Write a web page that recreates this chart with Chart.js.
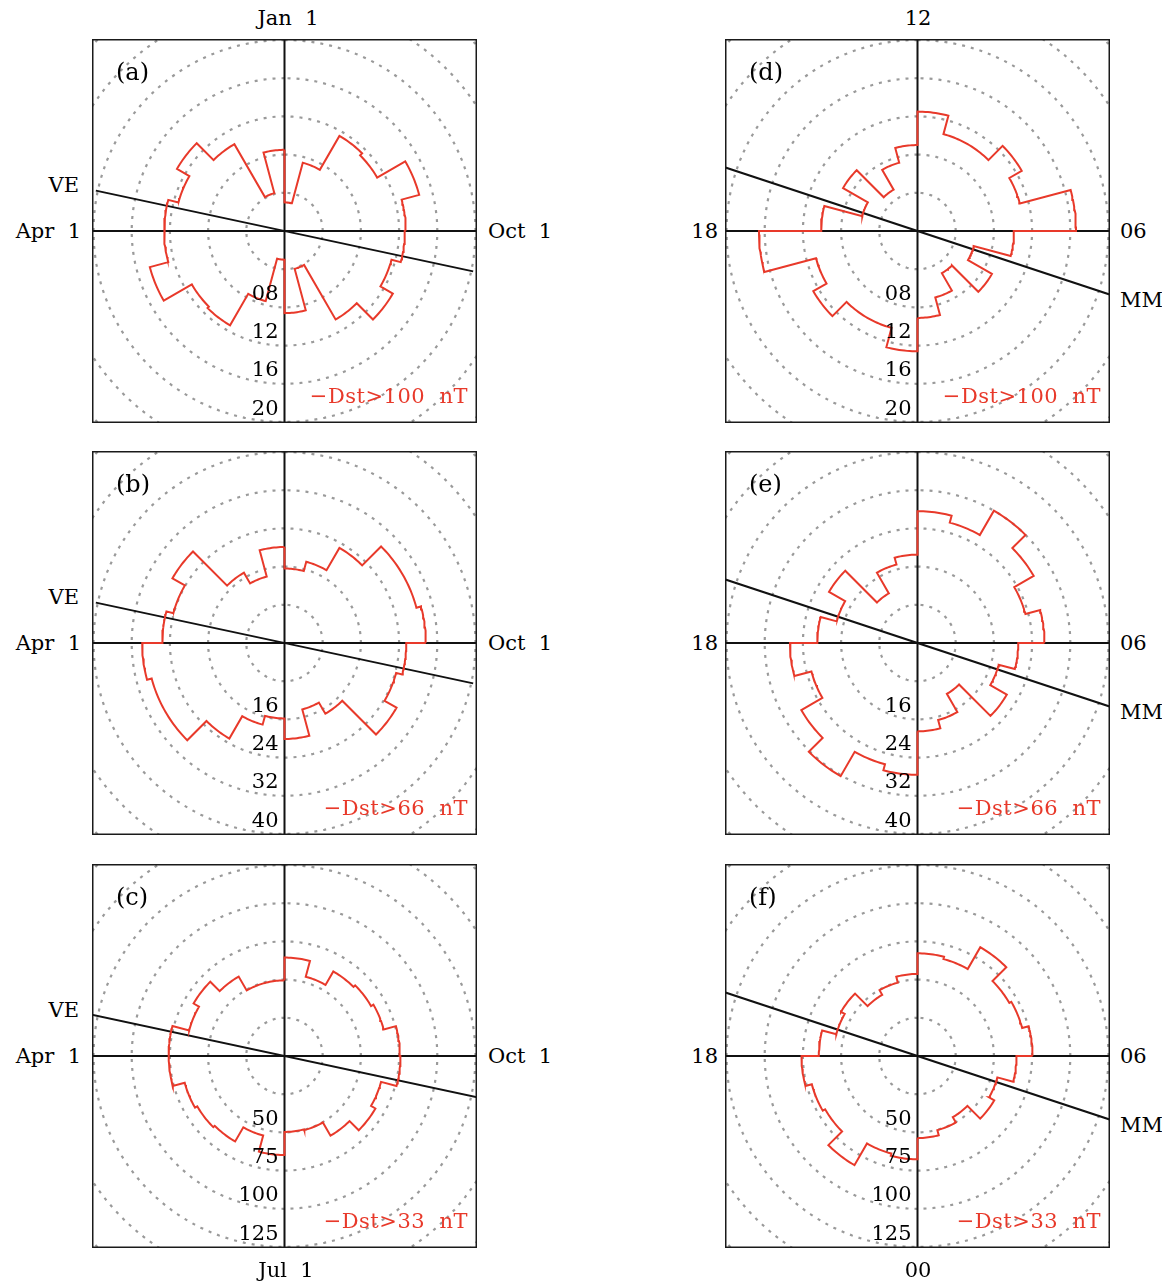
<!DOCTYPE html>
<html lang="en">
<head>
<meta charset="UTF-8">
<title>Storm occurrence by season and UT</title>
<script src="https://cdn.jsdelivr.net/npm/chart.js"></script>
<style>
  body { margin: 0; background: #fff; font-family: 'DejaVu Serif', serif; }
  #page { position: relative; width: 1162px; height: 1281px; overflow: hidden; }
  .box { position: absolute; width: 385px; height: 384px; }
  .lbl { position: absolute; font-size: 21px; line-height: 22px; white-space: pre; color: #000; }
  .red { color: #e8392a; letter-spacing: 0.5px; }
  .tag { font-size: 24px; line-height: 26px; }
</style>
</head>
<body>
<div id="page"></div>

<script>
// 24 bins of 15 deg each.
// season bins: bin 0 starts at Jan 1 (top) and runs anticlockwise (Apr 1 left, Jul 1 bottom, Oct 1 right)
// UT bins: bin 0 is 00-01 UT (bottom) and runs anticlockwise (06 right, 12 top, 18 left)
const seasonBins100 = [8.5, 4.1, 10.5, 13.0, 11.5, 12.6, 12.6, 14.6, 11.2, 11.4, 7.6, 3.0, 8.6, 4.1, 10.7, 13.1, 11.6, 12.6, 12.7, 14.6, 11.2, 11.5, 7.4, 3.0];
const seasonBins66 = [20.1, 14.4, 17.0, 27.1, 24.1, 25.6, 29.8, 28.8, 28.8, 23.1, 17.7, 15.8, 20.1, 14.4, 17.1, 27.1, 24.2, 25.5, 29.6, 28.6, 28.6, 23.0, 17.6, 15.6];
const seasonBins33 = [49.5, 49.5, 60.0, 68.7, 64.6, 75.9, 75.7, 67.6, 65.9, 64.6, 53.9, 64.8, 49.7, 50.2, 60.2, 68.7, 65.4, 75.9, 75.5, 67.2, 65.4, 63.9, 53.7, 64.4];
const utBins100 = [9.1, 7.2, 5.1, 9.0, 6.1, 10.1, 16.6, 11.1, 12.6, 10.5, 10.5, 12.5, 9.0, 7.4, 5.0, 9.0, 6.0, 10.1, 16.6, 11.0, 12.6, 10.5, 10.5, 12.6];
const utBins66 = [18.5, 16.7, 12.3, 21.6, 17.6, 21.1, 26.6, 23.4, 28.1, 32.0, 26.1, 27.6, 18.5, 17.0, 12.0, 21.4, 17.5, 21.0, 26.7, 23.0, 28.1, 32.2, 26.3, 27.6];
const utBins33 = [53.7, 50.2, 46.2, 58.0, 54.1, 64.8, 75.3, 70.9, 69.4, 82.2, 65.7, 67.2, 53.7, 49.7, 46.2, 57.8, 55.0, 64.6, 75.9, 71.6, 69.8, 82.5, 66.1, 67.6];

// dotted rings
const ringStep100 = 4, ringStep66 = 8, ringStep33 = 25;
const ringTicks100 = ['08', '12', '16', '20'];
const ringTicks66 = ['16', '24', '32', '40'];
const ringTicks33 = ['50', '75', '100', '125'];

// reference directions
const vernalEquinoxDay = 79;      // of 365
const magneticMidnightUT = 4.78;  // hours

const seasonLabels = ['Jan  1', 'Apr  1', 'Jul  1', 'Oct  1'];
const utLabels = ['12', '18', '00', '06'];
const thresholds = ['\u2212Dst>100  nT', '\u2212Dst>66  nT', '\u2212Dst>33  nT'];

// ---------- layout ----------
const RED = '#e8392a';
const RING_PX = 38.2;       // pixel distance between rings
const BOX_W = 385, BOX_H = 384;
const colX = [92, 725];
const rowY = [39, 451, 864];

const page = document.getElementById('page');

function put(text, x, y, align, cls) {
  const d = document.createElement('div');
  d.className = 'lbl' + (cls ? ' ' + cls : '');
  d.textContent = text;
  d.style.left = x + 'px';
  d.style.top = y + 'px';
  const tx = align === 'right' ? '-100%' : align === 'center' ? '-50%' : '0';
  d.style.transform = 'translate(' + tx + ', -50%)';
  page.appendChild(d);
}

const rad = d => d * Math.PI / 180;
// phi: degrees anticlockwise from the top
const polar = (r, phi) => ({ x: -r * Math.sin(rad(phi)), y: r * Math.cos(rad(phi)) });

function roseOutline(values, startDeg) {
  const w = 360 / values.length;
  const pts = [];
  values.forEach((v, k) => {
    for (let s = 0; s <= 12; s++) pts.push(polar(v, startDeg + k * w + s * w / 12));
  });
  pts.push(pts[0]);
  return pts;
}

function ring(r) {
  const pts = [];
  for (let s = 0; s <= 180; s++) pts.push(polar(r, s * 2));
  return pts;
}

const framePlugin = {
  id: 'frame',
  afterDraw(chart) {
    const c = chart.ctx;
    c.save();
    c.strokeStyle = '#1a1a1a';
    c.lineWidth = 1.5;
    c.strokeRect(0.75, 0.75, chart.width - 1.5, chart.height - 1.5);
    c.restore();
  }
};

const panels = [
  { tag: '(a)', col: 0, row: 0, values: seasonBins100, step: ringStep100, ticks: ringTicks100, thr: thresholds[0], start: 0,   tilt: vernalEquinoxDay / 365 * 360, tiltLen: 5.05 },
  { tag: '(b)', col: 0, row: 1, values: seasonBins66,  step: ringStep66,  ticks: ringTicks66,  thr: thresholds[1], start: 0,   tilt: vernalEquinoxDay / 365 * 360, tiltLen: 5.05 },
  { tag: '(c)', col: 0, row: 2, values: seasonBins33,  step: ringStep33,  ticks: ringTicks33,  thr: thresholds[2], start: 0,   tilt: vernalEquinoxDay / 365 * 360, tiltLen: 5.3 },
  { tag: '(d)', col: 1, row: 0, values: utBins100,     step: ringStep100, ticks: ringTicks100, thr: thresholds[0], start: 180, tilt: 180 + magneticMidnightUT * 15, tiltLen: 6 },
  { tag: '(e)', col: 1, row: 1, values: utBins66,      step: ringStep66,  ticks: ringTicks66,  thr: thresholds[1], start: 180, tilt: 180 + magneticMidnightUT * 15, tiltLen: 6 },
  { tag: '(f)', col: 1, row: 2, values: utBins33,      step: ringStep33,  ticks: ringTicks33,  thr: thresholds[2], start: 180, tilt: 180 + magneticMidnightUT * 15, tiltLen: 6 }
];

panels.forEach(p => {
  const left = colX[p.col], top = rowY[p.row];
  const box = document.createElement('div');
  box.className = 'box';
  box.style.left = left + 'px';
  box.style.top = top + 'px';
  const cv = document.createElement('canvas');
  cv.width = BOX_W; cv.height = BOX_H;
  box.appendChild(cv);
  page.appendChild(box);

  const hx = BOX_W / 2 / RING_PX * p.step;
  const hy = BOX_H / 2 / RING_PX * p.step;
  const big = hx * 2;

  const datasets = [];
  datasets.push({
    data: roseOutline(p.values, p.start),
    borderColor: RED, borderWidth: 2, order: 0
  });
  const tl = p.tiltLen * p.step;
  datasets.push({
    data: [polar(tl, p.tilt), polar(-tl, p.tilt)],
    borderColor: '#111', borderWidth: 2, order: 1
  });
  datasets.push({ data: [{ x: -big, y: 0 }, { x: big, y: 0 }], borderColor: '#111', borderWidth: 2, order: 2 });
  datasets.push({ data: [{ x: 0, y: -big }, { x: 0, y: big }], borderColor: '#111', borderWidth: 2, order: 2 });
  for (let m = 1; m <= 7; m++) {
    datasets.push({
      data: ring(m * p.step),
      borderColor: '#9a9a9a', borderWidth: 2.2, borderDash: [3, 6], order: 3
    });
  }
  datasets.forEach(d => {
    d.showLine = true; d.pointRadius = 0; d.tension = 0; d.fill = false; d.clip = 0;
    d.borderCapStyle = 'butt'; d.borderJoinStyle = 'miter';
  });

  const chart = new Chart(cv, {
    type: 'scatter',
    data: { datasets },
    options: {
      responsive: false,
      animation: false,
      events: [],
      layout: { padding: 0 },
      plugins: { legend: { display: false }, tooltip: { enabled: false } },
      scales: {
        x: { type: 'linear', display: false, min: -hx, max: hx },
        y: { type: 'linear', display: false, min: -hy, max: hy }
      }
    },
    plugins: [framePlugin]
  });

  // radial tick labels sit just left of the lower axis, above each ring
  const cx = chart.scales.x.getPixelForValue(0);
  p.ticks.forEach(t => {
    const py = chart.scales.y.getPixelForValue(-parseFloat(t));
    put(t, left + cx - 6, top + py - 14.5, 'right');
  });
  put(p.tag, left + 24, top + 33, 'left', 'tag');
  put(p.thr, left + BOX_W - 9, top + 357, 'right', 'red');
});

// outer labels
put(seasonLabels[0], 288, 18, 'center');
put(utLabels[0], 918, 18, 'center');
put(seasonLabels[2], 286, 1270, 'center');
put(utLabels[2], 918, 1270, 'center');
rowY.forEach(t => {
  const cy = t + 192;
  put('VE', 79, cy - 46, 'right');
  put(seasonLabels[1], 81, cy, 'right');
  put(seasonLabels[3], 488, cy, 'left');
  put(utLabels[1], 718, cy, 'right');
  put(utLabels[3], 1120, cy, 'left');
  put('MM', 1120, cy + 69, 'left');
});
</script>
</body>
</html>
